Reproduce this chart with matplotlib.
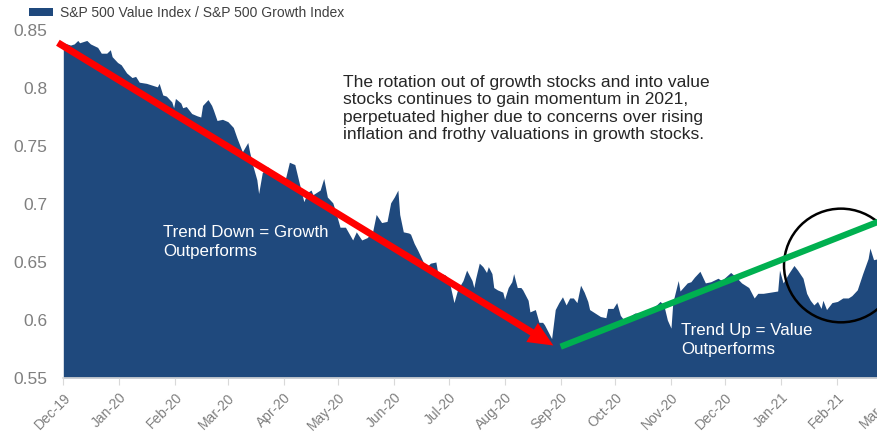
"""
Value vs Growth ratio chart (S&P 500 Value Index / S&P 500 Growth Index)

Area chart of the ratio from Dec-19 to Mar-21 with trend arrows
and a few annotations. Saves the figure as out.png.
"""
import pandas as pd
import matplotlib.pyplot as plt
import matplotlib.dates as mdates
from matplotlib.patches import Ellipse, Patch

START_DATE = pd.Timestamp("2019-12-01")

# days after START_DATE
day_offset = [
    0, 4, 6, 8, 9, 13, 15, 19, 21, 24, 26, 27, 30, 32, 35, 38, 40, 42, 46, 48,
    52, 53, 55, 57, 60, 61, 62, 65, 66, 68, 71, 74, 76, 77, 80, 82, 83, 85, 88, 91,
    94, 96, 99, 102, 103, 105, 107, 108, 110, 113, 116, 120, 123, 125, 128, 130, 133, 135, 137, 138,
    142, 144, 146, 149, 151, 153, 156, 160, 162, 165, 168, 171, 173, 176, 179, 181, 183, 185, 186, 188,
    191, 192, 194, 196, 199, 201, 203, 206, 207, 211, 213, 216, 218, 221, 223, 226, 227, 228, 230, 232,
    234, 235, 237, 238, 240, 243, 244, 246, 248, 249, 251, 253, 254, 257, 258, 261, 263, 265, 266, 268,
    270, 272, 274, 276, 278, 280, 282, 284, 286, 288, 290, 291, 294, 297, 300, 301, 304, 306, 308, 311,
    313, 316, 319, 323, 326, 328, 330, 332, 334, 336, 337, 340, 341, 345, 347, 349, 352, 355, 358, 362,
    364, 369, 372, 375, 379, 382, 384, 387, 391, 395, 396, 398, 401, 404, 406, 409, 411, 413, 415, 417,
    419, 420, 422, 425, 428, 431, 434, 436, 439, 442, 445, 446, 448, 451, 456,
]

ratio = [
    0.839, 0.837, 0.838, 0.841, 0.839, 0.841, 0.838, 0.835, 0.830, 0.830, 0.833, 0.827, 0.822, 0.820, 0.813, 0.809, 0.810, 0.805, 0.804, 0.803,
    0.801, 0.804, 0.794, 0.793, 0.788, 0.783, 0.791, 0.787, 0.783, 0.784, 0.778, 0.776, 0.775, 0.785, 0.790, 0.785, 0.781, 0.772, 0.773, 0.771,
    0.766, 0.757, 0.745, 0.753, 0.745, 0.732, 0.721, 0.709, 0.727, 0.732, 0.728, 0.721, 0.723, 0.736, 0.734, 0.721, 0.702, 0.710, 0.712, 0.708,
    0.712, 0.722, 0.706, 0.701, 0.691, 0.680, 0.680, 0.669, 0.676, 0.669, 0.671, 0.676, 0.691, 0.684, 0.685, 0.701, 0.706, 0.712, 0.691, 0.676,
    0.675, 0.674, 0.666, 0.660, 0.650, 0.646, 0.649, 0.650, 0.641, 0.639, 0.636, 0.615, 0.626, 0.634, 0.643, 0.634, 0.628, 0.636, 0.649, 0.646,
    0.641, 0.646, 0.640, 0.628, 0.626, 0.624, 0.618, 0.628, 0.633, 0.640, 0.628, 0.628, 0.626, 0.617, 0.607, 0.609, 0.598, 0.598, 0.596, 0.590,
    0.584, 0.609, 0.615, 0.620, 0.613, 0.619, 0.619, 0.615, 0.630, 0.624, 0.616, 0.609, 0.606, 0.603, 0.602, 0.610, 0.610, 0.615, 0.604, 0.598,
    0.603, 0.606, 0.606, 0.609, 0.611, 0.613, 0.616, 0.613, 0.600, 0.593, 0.615, 0.634, 0.625, 0.632, 0.633, 0.637, 0.642, 0.632, 0.633, 0.636,
    0.634, 0.641, 0.637, 0.632, 0.628, 0.619, 0.623, 0.623, 0.624, 0.625, 0.643, 0.632, 0.640, 0.647, 0.643, 0.636, 0.623, 0.617, 0.613, 0.616,
    0.610, 0.617, 0.609, 0.615, 0.616, 0.619, 0.619, 0.621, 0.626, 0.640, 0.653, 0.662, 0.652, 0.653, 0.655,
]

# trend lines (start/end dates and levels) and the highlight circle
down_trend = (["2019-11-28", "2020-08-28"], [0.839, 0.578])
up_trend = (["2020-09-01", "2021-03-01"], [0.577, 0.688])
circle_center = ("2021-02-03", 0.647)

NAVY = "#1f497d"
GRAY = "#7f7f7f"


def main():
    dates = START_DATE + pd.to_timedelta(day_offset, unit="D")

    plt.rcParams["font.family"] = ["Liberation Sans", "DejaVu Sans"]
    fig = plt.figure(figsize=(8.78, 4.36), dpi=100)
    ax = fig.add_axes([0.0721, 0.1330, 0.9393, 0.7982])

    ax.fill_between(dates, ratio, 0.55, color=NAVY, lw=0)

    ax.set_xlim(START_DATE, pd.Timestamp("2021-03-01"))
    ax.set_ylim(0.55, 0.85)

    months = pd.date_range("2019-12-01", "2021-03-01", freq="MS")
    ax.set_xticks(months)
    ax.set_xticklabels([m.strftime("%b-%y") for m in months], rotation=45,
                       ha="right", rotation_mode="anchor", fontsize=10, color=GRAY)
    ax.tick_params(axis="x", length=5, color="#d9d9d9", pad=4)

    ax.set_yticks([0.55, 0.6, 0.65, 0.7, 0.75, 0.8, 0.85])
    ax.set_yticklabels(["0.55", "0.6", "0.65", "0.7", "0.75", "0.8", "0.85"],
                       fontsize=12.5, color=GRAY)
    ax.tick_params(axis="y", length=0, pad=11.5)

    for side in ["top", "right", "left"]:
        ax.spines[side].set_visible(False)
    ax.spines["bottom"].set_color("#d9d9d9")
    ax.spines["bottom"].set_linewidth(1.2)

    # red arrow: trend down
    ax.annotate("", xy=(pd.Timestamp(down_trend[0][1]), down_trend[1][1]),
                xytext=(pd.Timestamp(down_trend[0][0]), down_trend[1][0]),
                arrowprops=dict(facecolor="#ff0000", edgecolor="none", width=5,
                                headwidth=16, headlength=18, shrink=0))

    # green line: trend up
    ax.plot(pd.to_datetime(up_trend[0]), up_trend[1], color="#00b050", lw=4.5,
            solid_capstyle="butt", clip_on=False)

    # black circle round the recent pullback
    cx = mdates.date2num(pd.Timestamp(circle_center[0]))
    ax.add_patch(Ellipse((cx, circle_center[1]), width=63, height=0.098,
                         fill=False, edgecolor="black", lw=1.8, clip_on=False))

    fig.text(0.3907, 0.828,
             "The rotation out of growth stocks and into value\n"
             "stocks continues to gain momentum in 2021,\n"
             "perpetuated higher due to concerns over rising\n"
             "inflation and frothy valuations in growth stocks.",
             fontsize=12.5, color="#262626", va="top", ha="left", linespacing=1.2)

    fig.text(0.1857, 0.484, "Trend Down = Growth\nOutperforms", fontsize=12.2,
             color="white", va="top", ha="left", linespacing=1.3)
    fig.text(0.7756, 0.259, "Trend Up = Value\nOutperforms", fontsize=12.2,
             color="white", va="top", ha="left", linespacing=1.3)

    fig.legend(handles=[Patch(facecolor=NAVY, edgecolor="none")],
               labels=["S&P 500 Value Index / S&P 500 Growth Index"],
               loc="center left", bbox_to_anchor=(0.033, 0.971), frameon=False,
               fontsize=10, handlelength=1.7, handleheight=0.5, handletextpad=0.5,
               borderpad=0, borderaxespad=0, labelcolor="#404040")

    fig.savefig("out.png", dpi=100)


if __name__ == "__main__":
    main()
